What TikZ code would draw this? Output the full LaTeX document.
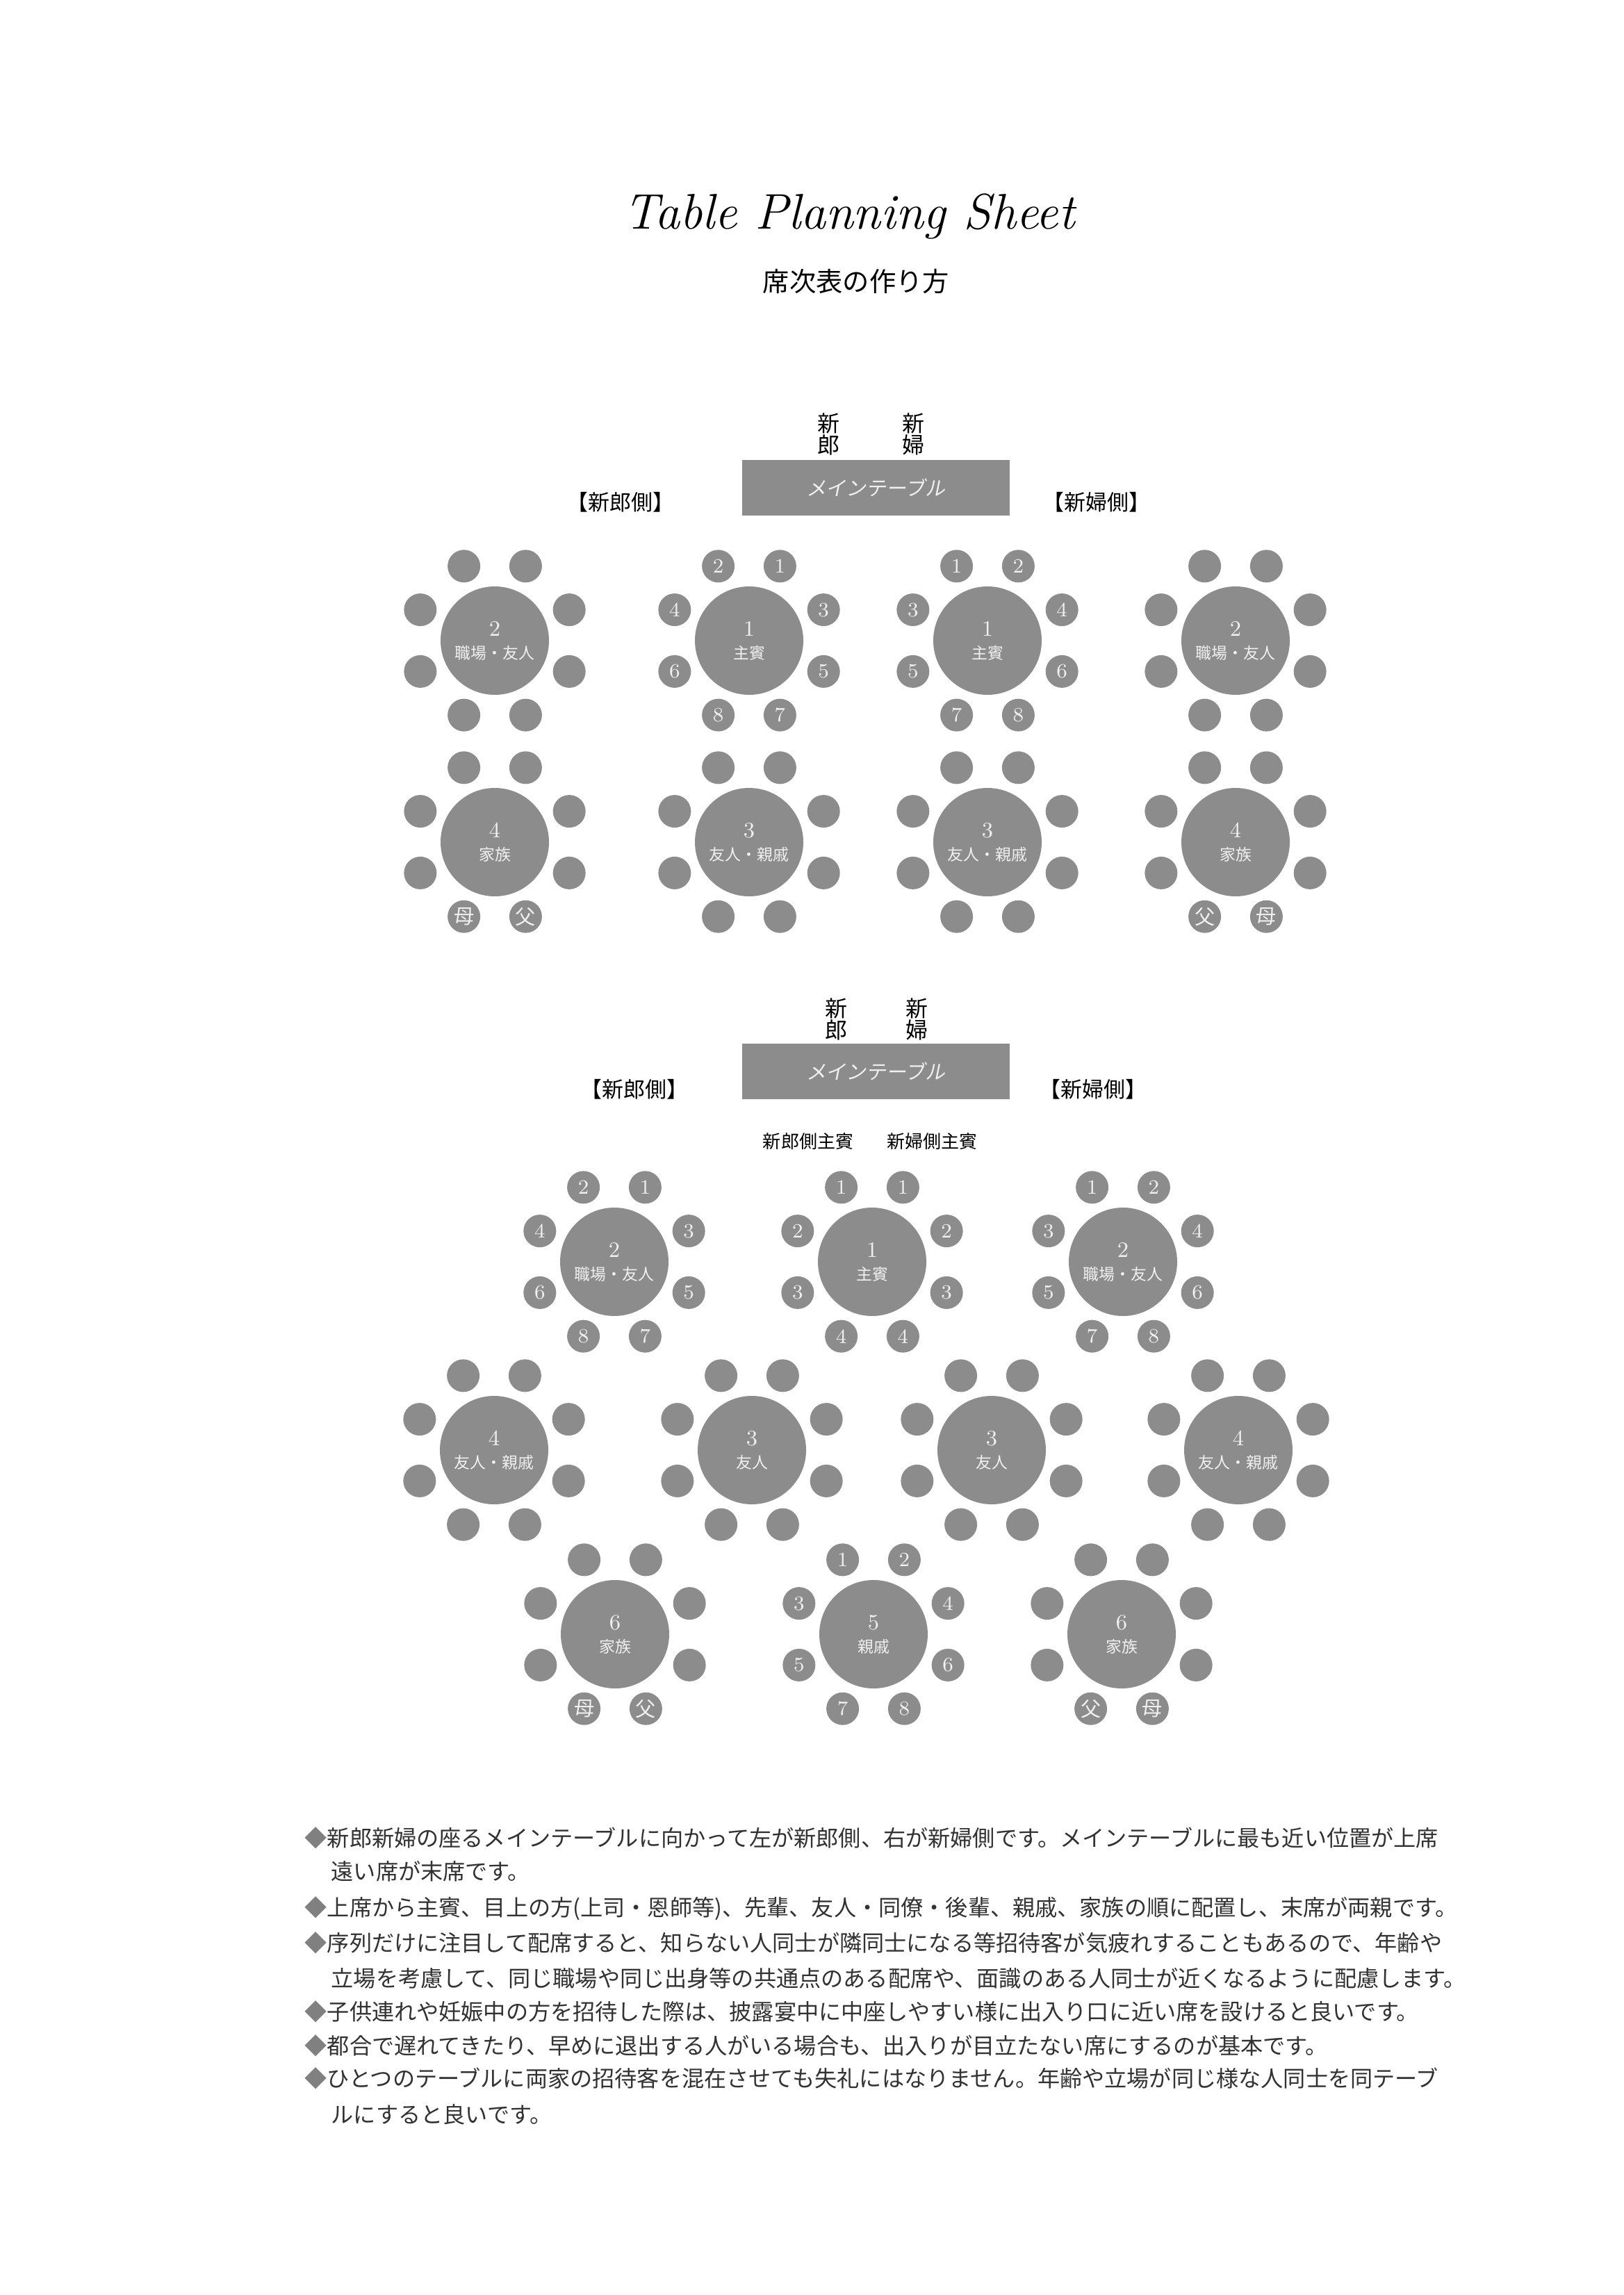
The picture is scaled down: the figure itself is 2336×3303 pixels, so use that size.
\documentclass[tikz,border=0pt]{standalone}
\usepackage{fontspec}
\usepackage{tikz}
\usetikzlibrary{calc}
\newfontfamily\jpfont{Noto Sans CJK JP}
\newfontfamily\jpslant[FakeSlant=0.2]{Noto Sans CJK JP}
\definecolor{tablegray}{RGB}{140,140,140}
\definecolor{paletext}{RGB}{240,240,240}
\definecolor{notetext}{RGB}{50,50,50}
\def\seatDist{116}
\newcommand{\kj}[1]{{\jpfont #1}}
% table with eight seats: name, position, number, guests, seat labels (tl,tr,lu,ru,ll,rl,bl,br)
\newcommand{\roundtable}[5]{%
  \node[roundtbl] (#1) at (#2) {{\fontsize{9}{9.4}\selectfont #3}\\{\jpfont #4}};
  \foreach \txt [count=\k] in {#5} {
    \pgfmathsetmacro{\ang}{{247.5,292.5,202.5,337.5,157.5,22.5,112.5,67.5}[\k-1]}
    \node[seat] (#1-s\k) at ($(#1)+(\ang:\seatDist)$) {\txt};
  }%
}

\begin{document}
\begin{tikzpicture}[x=0.1mm,y=-0.1mm]
      \tikzstyle{every node} = [inner sep=0pt]
      \tikzstyle{roundtbl} = [circle, fill=tablegray, minimum size=15.6mm, text=paletext, align=center, font=\fontsize{6.5}{9.4}\selectfont]
      \tikzstyle{seat} = [circle, fill=tablegray, minimum size=4.7mm, text=paletext, font=\fontsize{8.3}{9}\selectfont]
      \tikzstyle{maintable} = [rectangle, fill=tablegray, minimum width=38.5mm, minimum height=8mm, text=paletext, font=\jpslant\fontsize{8.2}{8}\selectfont]
      \tikzstyle{couple} = [align=center, font=\jpfont\fontsize{9.1}{8.9}\selectfont]
      \tikzstyle{side} = [font=\jpfont\fontsize{8.8}{10}\selectfont]
      \tikzstyle{note} = [anchor=west, text=notetext, font=\jpfont\fontsize{9.15}{11}\selectfont]
      \fill[white] (0,0) rectangle (2336,3303);
      \useasboundingbox (0,0) rectangle (2336,3303);
      % Heading
      \node[anchor=base] (title) at (1222,330) {\fontsize{20.5}{24}\selectfont\itshape Table Planning Sheet};
      \node (subtitle) at (1232,405) {\jpfont\fontsize{10.9}{12}\selectfont 席次表の作り方};
      % Plan 1
      \node[couple] (groom1) at (1192,625) {新\\郎};
      \node[couple] (bride1) at (1314,625) {新\\婦};
      \node[maintable] (main1) at (1260,702) {メインテーブル};
      \node[side] (gside1) at (893,723) {【新郎側】};
      \node[side] (bside1) at (1578,723) {【新婦側】};
      \roundtable{a1}{712,922}{2}{職場・友人}{{},{},{},{},{},{},{},{}}
      \roundtable{a2}{1078,922}{1}{主賓}{2,1,4,3,6,5,8,7}
      \roundtable{a3}{1421,922}{1}{主賓}{1,2,3,4,5,6,7,8}
      \roundtable{a4}{1778,922}{2}{職場・友人}{{},{},{},{},{},{},{},{}}
      \roundtable{b1}{712,1212}{4}{家族}{{},{},{},{},{},{},\kj{母},\kj{父}}
      \roundtable{b2}{1078,1212}{3}{友人・親戚}{{},{},{},{},{},{},{},{}}
      \roundtable{b3}{1421,1212}{3}{友人・親戚}{{},{},{},{},{},{},{},{}}
      \roundtable{b4}{1778,1212}{4}{家族}{{},{},{},{},{},{},\kj{父},\kj{母}}
      % Plan 2
      \node[couple] (groom2) at (1203,1467) {新\\郎};
      \node[couple] (bride2) at (1319,1467) {新\\婦};
      \node[maintable] (main2) at (1260,1542) {メインテーブル};
      \node[side] (gside2) at (913,1568) {【新郎側】};
      \node[side] (bside2) at (1573,1568) {【新婦側】};
      \node[font=\jpfont\fontsize{7.4}{9}\selectfont] (gguest) at (1163,1643) {新郎側主賓};
      \node[font=\jpfont\fontsize{7.4}{9}\selectfont] (bguest) at (1341,1643) {新婦側主賓};
      \roundtable{c1}{884,1816}{2}{職場・友人}{2,1,4,3,6,5,8,7}
      \roundtable{c2}{1255,1816}{1}{主賓}{1,1,2,2,3,3,4,4}
      \roundtable{c3}{1616,1816}{2}{職場・友人}{1,2,3,4,5,6,7,8}
      \roundtable{d1}{711,2087}{4}{友人・親戚}{{},{},{},{},{},{},{},{}}
      \roundtable{d2}{1082,2087}{3}{友人}{{},{},{},{},{},{},{},{}}
      \roundtable{d3}{1427,2087}{3}{友人}{{},{},{},{},{},{},{},{}}
      \roundtable{d4}{1782,2087}{4}{友人・親戚}{{},{},{},{},{},{},{},{}}
      \roundtable{e1}{885,2352}{6}{家族}{{},{},{},{},{},{},\kj{母},\kj{父}}
      \roundtable{e2}{1257,2352}{5}{親戚}{1,2,3,4,5,6,7,8}
      \roundtable{e3}{1614,2352}{6}{家族}{{},{},{},{},{},{},\kj{父},\kj{母}}
      % Notes
      \node[note] (n1) at (438,2645) {{\color{gray}◆}新郎新婦の座るメインテーブルに向かって左が新郎側、右が新婦側です。メインテーブルに最も近い位置が上席};
      \node[note] (n2) at (476,2693) {遠い席が末席です。};
      \node[note] (n3) at (438,2747) {{\color{gray}◆}上席から主賓、目上の方(上司・恩師等)、先輩、友人・同僚・後輩、親戚、家族の順に配置し、末席が両親です。};
      \node[note] (n4) at (438,2796) {{\color{gray}◆}序列だけに注目して配席すると、知らない人同士が隣同士になる等招待客が気疲れすることもあるので、年齢や};
      \node[note] (n5) at (476,2847) {立場を考慮して、同じ職場や同じ出身等の共通点のある配席や、面識のある人同士が近くなるように配慮します。};
      \node[note] (n6) at (438,2895) {{\color{gray}◆}子供連れや妊娠中の方を招待した際は、披露宴中に中座しやすい様に出入り口に近い席を設けると良いです。};
      \node[note] (n7) at (438,2944) {{\color{gray}◆}都合で遅れてきたり、早めに退出する人がいる場合も、出入りが目立たない席にするのが基本です。};
      \node[note] (n8) at (438,2991) {{\color{gray}◆}ひとつのテーブルに両家の招待客を混在させても失礼にはなりません。年齢や立場が同じ様な人同士を同テーブ};
      \node[note] (n9) at (476,3043) {ルにすると良いです。};
\end{tikzpicture}
\end{document}
